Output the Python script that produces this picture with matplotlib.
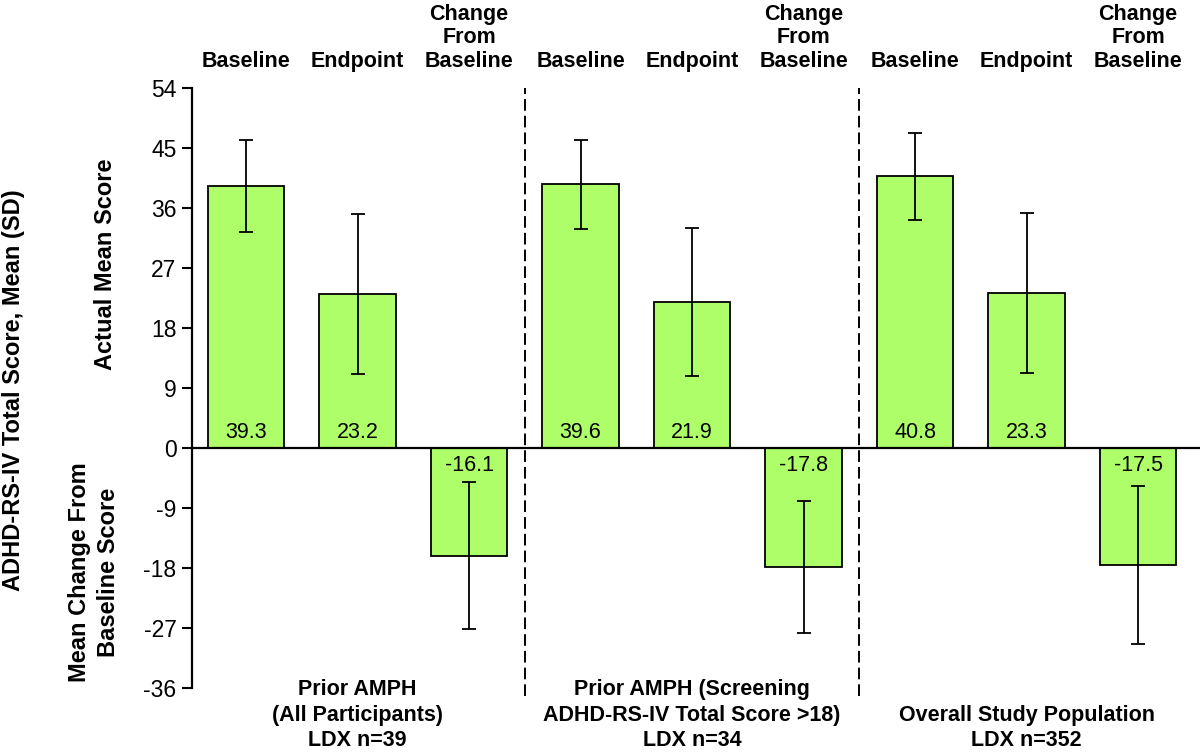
import matplotlib
matplotlib.use("Agg")
import matplotlib.pyplot as plt
import numpy as np

plt.rcParams['font.family'] = ['Liberation Sans', 'DejaVu Sans']
plt.rcParams['axes.unicode_minus'] = False

# ---- data ----
bar_labels = ['Baseline', 'Endpoint', 'Change\nFrom\nBaseline'] * 3
means = [39.3, 23.2, -16.1, 39.6, 21.9, -17.8, 40.8, 23.3, -17.5]
sds = [6.9, 12.0, 11.0, 6.7, 11.1, 9.9, 6.5, 12.0, 11.9]
group_labels = ['Prior AMPH\n(All Participants)\nLDX n=39',
                'Prior AMPH (Screening\nADHD-RS-IV Total Score >18)\nLDX n=34',
                'Overall Study Population\nLDX n=352']
yticks = [-36, -27, -18, -9, 0, 9, 18, 27, 36, 45, 54]

bar_color = '#aefe6a'

fig = plt.figure(figsize=(12, 7.53), dpi=100)
ax = fig.add_axes([0.1598, 0.0859, 0.8402, 0.7968])

x = np.arange(len(means))
ax.bar(x, means, width=0.686, color=bar_color, edgecolor='black', linewidth=1.3, zorder=2)
ax.errorbar(x, means, yerr=sds, fmt='none', ecolor='black', elinewidth=1.3,
            capsize=4.7, capthick=1.3, zorder=3)

# values inside the bars
for xi, m in zip(x, means):
    if m >= 0:
        ax.text(xi, 2.3, f'{m:.1f}', ha='center', va='center', fontsize=15.5, zorder=4)
    else:
        ax.text(xi, -2.6, f'{m:.1f}', ha='center', va='center', fontsize=15.5, zorder=4)

# zero line and group separators
ax.axhline(0, color='black', linewidth=1.6, zorder=3)
for xs in [2.5, 5.5]:
    ax.axvline(xs, ymin=-0.012, ymax=1.0, color='black', linewidth=1.4,
               linestyle=(0, (6, 2.6)), clip_on=False, zorder=1)

ax.set_xlim(-0.487, 8.556)
ax.set_ylim(-36, 54)
ax.set_yticks(yticks)
ax.tick_params(axis='y', labelsize=16.5, length=7, width=1.5, direction='out', pad=4)

# category labels on top
ax.set_xticks(x)
ax.set_xticklabels(bar_labels, fontsize=15.5, fontweight='bold', linespacing=1.18)
ax.tick_params(axis='x', bottom=False, top=False, labelbottom=False, labeltop=True, pad=8)

for side in ['top', 'right', 'bottom']:
    ax.spines[side].set_visible(False)
ax.spines['left'].set_linewidth(1.6)

# group labels at the bottom
for gx, lab in zip([1, 4, 7], group_labels):
    ax.text(gx, -45.4, lab, ha='center', va='bottom', fontsize=15.5, fontweight='bold',
            linespacing=1.28, clip_on=False)

# y axis titles
fig.text(14 / 1200, 1 - 390 / 753, 'ADHD-RS-IV Total Score, Mean (SD)', rotation=90,
         ha='center', va='center', fontsize=17, fontweight='bold')
fig.text(106 / 1200, 1 - 264 / 753, 'Actual Mean Score', rotation=90,
         ha='center', va='center', fontsize=17, fontweight='bold')
fig.text(94 / 1200, 1 - 572 / 753, 'Mean Change From\nBaseline Score', rotation=90,
         ha='center', va='center', fontsize=17, fontweight='bold', linespacing=1.3)

fig.savefig('out.png', dpi=100)
